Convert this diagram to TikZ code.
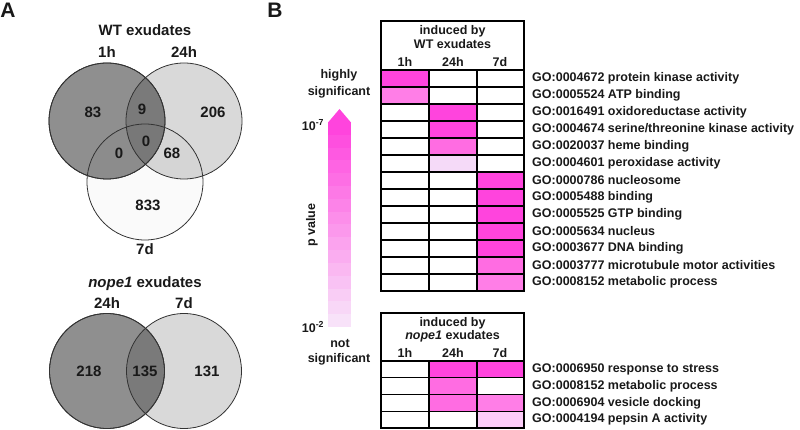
\documentclass[tikz,border=0pt]{standalone}
\usepackage{fontspec}
\setmainfont{Liberation Sans}
\definecolor{mA}{HTML}{FF44DD}
\definecolor{mB}{HTML}{FF6CE2}
\definecolor{mC}{HTML}{FF7EE7}
\definecolor{mP}{HTML}{F5DAF8}
\definecolor{mQ}{HTML}{FCCDF9}
\definecolor{mBot}{HTML}{F8E2F9}
\begin{document}
\begin{tikzpicture}[x=1pt,y=-1pt,
  every node/.style={font=\bfseries\fontsize{12.5}{14}\selectfont, inner sep=0pt, text=black!90},
  big/.style={font=\bfseries\fontsize{15}{17}\selectfont},
  panel/.style={font=\bfseries\fontsize{21}{23}\selectfont},
  venn/.style={circle, minimum size=#1, draw=black!80, line width=0.8pt, fill=black},
  golabel/.style={anchor=west},
  thin/.style={line width=1.3pt},
  thick/.style={line width=2pt}
]
\useasboundingbox (0,0) rectangle (800,430);

% panel labels
\node[panel] (A) at (8,10) {A};
\node[panel] (B) at (275,10) {B};

% ---- WT Venn
\node[venn=116pt, fill opacity=0.44] (v1h) at (107,121) {};
\node[venn=116pt, fill opacity=0.15] (v24h) at (184,121) {};
\node[venn=116pt, fill opacity=0.02] (v7d) at (145,182) {};
\draw[black!80, line width=0.8pt] (107,121) circle[radius=58pt];
\node[big] (wtt) at (145,30) {WT exudates};
\node[big] (l1h) at (107,52) {1h};
\node[big] (l24h) at (184,52) {24h};
\node[big] (l7d) at (145,249) {7d};
\node[big] (n83) at (93,112) {83};
\node[big] (n9) at (142,109) {9};
\node[big] (n206) at (213,112) {206};
\node[big] (n0a) at (146,141) {0};
\node[big] (n0b) at (119,153) {0};
\node[big] (n68) at (172,153) {68};
\node[big] (n833) at (148,205) {833};

% ---- nope1 Venn
\node[venn=115pt, fill opacity=0.44] (w24h) at (107,371) {};
\node[venn=115pt, fill opacity=0.15] (w7d) at (184,371) {};
\draw[black!80, line width=0.8pt] (107,371) circle[radius=57.5pt];
\node[big] (nt) at (145,284) {\textit{nope1} exudates};
\node[big] (m24h) at (107,303) {24h};
\node[big] (m7d) at (184,303) {7d};
\node[big] (n218) at (89,371) {218};
\node[big] (n135) at (145,371) {135};
\node[big] (n131) at (207,371) {131};

% ---- gradient arrow
\foreach \i in {0,...,15}{
  \pgfmathsetmacro{\p}{100-\i*100/15}
  \fill[mA!\p!mBot] (328,{122+\i*205/16}) rectangle (351,{122+(\i+1)*205/16+0.3});
}
\fill[mA] (328,122.5) -- (339.5,109) -- (351,122.5) -- cycle;
\node (hi1) at (339,75) {highly};
\node (hi2) at (339,92) {significant};
\node (e7) at (313,125) {10\textsuperscript{-7}};
\node[rotate=90] (pv) at (312,225) {p value};
\node (e2) at (313,327) {10\textsuperscript{-2}};
\node (ns1) at (340,343) {not};
\node (ns2) at (339,359) {significant};

% ---- top table
\def\xa{381}\def\xb{429}\def\xc{477}\def\xd{524}
\foreach \r/\c/\col in {1/1/mA,2/1/mC,3/2/mA,4/2/mA,5/2/mB,6/2/mP,7/3/mA,8/3/mA,9/3/mA,10/3/mA,11/3/mA,12/3/mB,13/3/mC}{
  \fill[\col] ({381+(\c-1)*47.67},{70+(\r-1)*17}) rectangle ({381+\c*47.67},{70+\r*17});
}
\foreach \r in {1,...,12}{\draw[thin] (\xa,{70+\r*17}) -- (\xd,{70+\r*17});}
\draw[thin] (\xb,70) -- (\xb,291) (\xc,70) -- (\xc,291);
\draw[thick] (\xa,70) -- (\xd,70);
\draw[thick] (\xa,21) rectangle (\xd,291);
\node (th1) at (452.5,31) {induced by};
\node (th2) at (452.5,44) {WT exudates};
\node (tc1) at (405,62) {1h};
\node (tc2) at (453,62) {24h};
\node (tc3) at (500,62) {7d};
\foreach \r/\t in {1/{GO:0004672 protein kinase activity},2/{GO:0005524 ATP binding},3/{GO:0016491 oxidoreductase activity},4/{GO:0004674 serine/threonine kinase activity},5/{GO:0020037 heme binding},6/{GO:0004601 peroxidase activity},7/{GO:0000786 nucleosome},8/{GO:0005488 binding},9/{GO:0005525 GTP binding},10/{GO:0005634 nucleus},11/{GO:0003677 DNA binding},12/{GO:0003777 microtubule motor activities},13/{GO:0008152 metabolic process}}{
  \node[golabel] (go\r) at (532,{70+(\r-0.5)*17}) {\t};
}

% ---- bottom table
\foreach \r/\c/\col in {1/2/mA,1/3/mA,2/2/mB,3/2/mB,3/3/mC,4/3/mQ}{
  \fill[\col] ({381+(\c-1)*47.67},{361+(\r-1)*16.75}) rectangle ({381+\c*47.67},{361+\r*16.75});
}
\foreach \r in {1,...,3}{\draw[thin] (\xa,{361+\r*16.75}) -- (\xd,{361+\r*16.75});}
\draw[thin] (\xb,361) -- (\xb,428) (\xc,361) -- (\xc,428);
\draw[thick] (\xa,361) -- (\xd,361);
\draw[thick] (\xa,313) rectangle (\xd,428);
\node (bh1) at (452.5,323) {induced by};
\node (bh2) at (452.5,336) {\textit{nope1} exudates};
\node (bc1) at (405,353) {1h};
\node (bc2) at (453,353) {24h};
\node (bc3) at (500,353) {7d};
\foreach \r/\t in {1/{GO:0006950 response to stress},2/{GO:0008152 metabolic process},3/{GO:0006904 vesicle docking},4/{GO:0004194 pepsin A activity}}{
  \node[golabel] (gb\r) at (532,{361+(\r-0.5)*16.75}) {\t};
}
\end{tikzpicture}
\end{document}
